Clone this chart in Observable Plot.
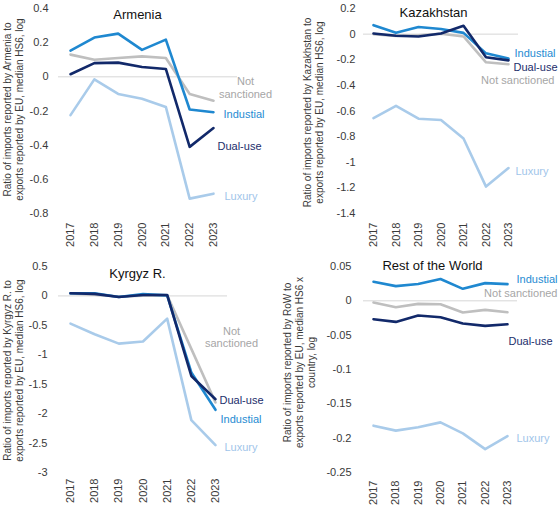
<!DOCTYPE html>
<html>
<head>
<meta charset="utf-8">
<script src="https://cdn.jsdelivr.net/npm/d3@7"></script>
<script src="https://cdn.jsdelivr.net/npm/@observablehq/plot@0.6"></script>
<style>
  html, body { margin: 0; padding: 0; background: #fff; }
  #wrap { position: relative; width: 559px; height: 505px; font-family: "Liberation Sans", Arial, sans-serif; }
  .panel { position: absolute; }
</style>
</head>
<body>
<div id="wrap"></div>
<script>
const years = [2017, 2018, 2019, 2020, 2021, 2022, 2023];
const seriesNames = ["Not sanctioned", "Luxury", "Industrial", "Dual-use"];
const seriesColors = ["#bfbfbf", "#a9cbea", "#1f88d0", "#12296a"];
const labelColors = { "Not sanctioned": "#a6a6a6", "Luxury": "#9fc5ea", "Industrial": "#1f8bd2", "Dual-use": "#1c2e6b" };

// Armenia
const armeniaIndustrial = [0.153, 0.230, 0.253, 0.158, 0.218, -0.191, -0.207];
const armeniaDualUse = [0.015, 0.080, 0.083, 0.058, 0.046, -0.410, -0.300];
const armeniaNotSanctioned = [0.130, 0.100, 0.110, 0.120, 0.110, -0.100, -0.140];
const armeniaLuxury = [-0.224, -0.015, -0.100, -0.128, -0.176, -0.713, -0.684];
const armeniaTicks = [0.4, 0.2, 0, -0.2, -0.4, -0.6, -0.8];

// Kazakhstan
const kazakhstanIndustrial = [0.070, 0.010, 0.055, 0.040, 0.010, -0.150, -0.190];
const kazakhstanDualUse = [0.005, -0.013, -0.018, 0.005, 0.065, -0.180, -0.205];
const kazakhstanNotSanctioned = [0.000, -0.015, -0.010, 0.003, -0.018, -0.220, -0.235];
const kazakhstanLuxury = [-0.655, -0.560, -0.660, -0.670, -0.815, -1.190, -1.045];
const kazakhstanTicks = [0.2, 0, -0.2, -0.4, -0.6, -0.8, -1, -1.2, -1.4];

// Kyrgyz R.
const kyrgyzIndustrial = [0.045, 0.045, -0.017, 0.030, 0.010, -1.300, -1.935];
const kyrgyzDualUse = [0.045, 0.035, -0.017, 0.017, 0.017, -1.360, -1.755];
const kyrgyzNotSanctioned = [0.040, 0.020, -0.010, 0.005, 0.010, -0.900, -1.810];
const kyrgyzLuxury = [-0.470, -0.650, -0.810, -0.775, -0.385, -2.110, -2.535];
const kyrgyzTicks = [0.5, 0, -0.5, -1, -1.5, -2, -2.5, -3];

// Rest of the World
const rowIndustrial = [0.0278, 0.0214, 0.0244, 0.0317, 0.0175, 0.0258, 0.0244];
const rowDualUse = [-0.0268, -0.0307, -0.0214, -0.0239, -0.0331, -0.0365, -0.0341];
const rowNotSanctioned = [-0.0024, -0.0093, -0.0044, -0.0049, -0.0170, -0.0132, -0.0166];
const rowLuxury = [-0.1818, -0.1890, -0.1840, -0.1770, -0.1930, -0.2160, -0.1970];
const rowTicks = [0.05, 0, -0.05, -0.1, -0.15, -0.2, -0.25];

function rows(values) {
  const out = [];
  for (const [name, arr] of Object.entries(values)) {
    arr.forEach((v, i) => out.push({ series: name, year: years[i], value: v }));
  }
  return out;
}

const fmt = d => String(+d.toFixed(3));

const panels = [
  {
    title: "Armenia", left: 0, top: 0, width: 280, height: 250,
    margin: { top: 8, right: 67, bottom: 37, left: 70 },
    ticks: armeniaTicks, tickPadding: 22, xPad: 9,
    yLabel: "Ratio of imports reported by Armenia to\nexports reported by EU, median HS6, log",
    yLabelDx: -68, yLabelDy: -1.5,
    titleDx: -4.5, titleDy: 6, zeroInset: [-12, -24],
    data: { "Not sanctioned": armeniaNotSanctioned, "Luxury": armeniaLuxury, "Industrial": armeniaIndustrial, "Dual-use": armeniaDualUse },
    labels: [
      { s: "Not sanctioned", text: "Not\nsanctioned", anchor: "middle", dx: 32, dy: -13 },
      { s: "Industrial", text: "Industial", anchor: "start", dx: 10, dy: 2 },
      { s: "Dual-use", text: "Dual-use", anchor: "start", dx: 4, dy: 18 },
      { s: "Luxury", text: "Luxury", anchor: "start", dx: 11, dy: 2 }
    ]
  },
  {
    title: "Kazakhstan", left: 280, top: 0, width: 279, height: 250,
    margin: { top: 8, right: 51, bottom: 37, left: 93 },
    ticks: kazakhstanTicks, tickPadding: 18, xPad: 9,
    yLabel: "Ratio of imports reported by Kazakhstan to\nexports reported by EU, median HS6, log",
    yLabelDx: -71, yLabelDy: 1.5,
    titleDx: -7.5, titleDy: 4, zeroInset: [-10, -10],
    data: { "Not sanctioned": kazakhstanNotSanctioned, "Luxury": kazakhstanLuxury, "Industrial": kazakhstanIndustrial, "Dual-use": kazakhstanDualUse },
    labels: [
      { s: "Industrial", text: "Industial", anchor: "start", dx: 6, dy: -6 },
      { s: "Dual-use", text: "Dual-use", anchor: "start", dx: 5, dy: 7 },
      { s: "Not sanctioned", text: "Not sanctioned", anchor: "end", dx: 46, dy: 16 },
      { s: "Luxury", text: "Luxury", anchor: "start", dx: 7, dy: 3 }
    ]
  },
  {
    title: "Kyrgyz R.", left: 0, top: 250, width: 280, height: 255,
    margin: { top: 16, right: 65, bottom: 33, left: 70 },
    ticks: kyrgyzTicks, tickPadding: 23, xPad: 6,
    yLabel: "Ratio of imports reported by Kyrgyz R. to\nexports reported by EU, median HS6, log",
    yLabelDx: -68, yLabelDy: 1,
    titleDx: -5.5, titleDy: 7, zeroInset: [-12, -12],
    data: { "Not sanctioned": kyrgyzNotSanctioned, "Luxury": kyrgyzLuxury, "Industrial": kyrgyzIndustrial, "Dual-use": kyrgyzDualUse },
    labels: [
      { s: "Not sanctioned", text: "Not\nsanctioned", anchor: "middle", dx: 16, dy: -65.5 },
      { s: "Dual-use", text: "Dual-use", anchor: "start", dx: 4, dy: 1 },
      { s: "Industrial", text: "Industial", anchor: "start", dx: 5, dy: 9 },
      { s: "Luxury", text: "Luxury", anchor: "start", dx: 9, dy: 2 }
    ]
  },
  {
    title: "Rest of the World", left: 280, top: 250, width: 279, height: 255,
    margin: { top: 16, right: 52, bottom: 33, left: 93 },
    ticks: rowTicks, tickPadding: 22, xPad: 8,
    yLabel: "Ratio of imports reported by RoW to\nexports reported by EU, median HS6 x\ncountry, log",
    yLabelDx: -91, yLabelDy: -7,
    titleDx: -8, titleDy: -1, zeroInset: [-10, -10],
    data: { "Not sanctioned": rowNotSanctioned, "Luxury": rowLuxury, "Industrial": rowIndustrial, "Dual-use": rowDualUse },
    labels: [
      { s: "Industrial", text: "Industial", anchor: "start", dx: 9, dy: -5 },
      { s: "Not sanctioned", text: "Not sanctioned", anchor: "end", dx: 50, dy: -19 },
      { s: "Dual-use", text: "Dual-use", anchor: "start", dx: 1, dy: 17 },
      { s: "Luxury", text: "Luxury", anchor: "start", dx: 9, dy: 2 }
    ]
  }
];

const wrap = document.getElementById("wrap");

for (const p of panels) {
  const data = rows(p.data);
  const last = data.filter(d => d.year === years[years.length - 1]);
  const labelMarks = p.labels.map(l =>
    Plot.text(last.filter(d => d.series === l.s), {
      x: "year", y: "value", text: () => l.text,
      textAnchor: l.anchor, dx: l.dx, dy: l.dy,
      fill: labelColors[l.s], fontSize: 11, lineHeight: 1.15,
      fontFamily: "Liberation Sans, Arial, sans-serif"
    })
  );
  const chart = Plot.plot({
    width: p.width, height: p.height,
    marginTop: p.margin.top, marginRight: p.margin.right,
    marginBottom: p.margin.bottom, marginLeft: p.margin.left,
    style: { fontFamily: "Liberation Sans, Arial, sans-serif", background: "white", overflow: "visible" },
    x: { domain: [years[0], years[years.length - 1]] },
    y: { domain: [p.ticks[p.ticks.length - 1], p.ticks[0]] },
    color: { domain: seriesNames, range: seriesColors },
    marks: [
      Plot.ruleY([0], { stroke: "#d6d6d6", strokeWidth: 1, insetLeft: p.zeroInset[0], insetRight: p.zeroInset[1] }),
      Plot.axisY({ ticks: p.ticks, tickFormat: fmt, tickSize: 0, tickPadding: p.tickPadding, fontSize: 11, fill: "#3a3a3a", label: null }),
      Plot.axisX({ ticks: years, tickFormat: d => String(d), tickRotate: -90, tickSize: 0, tickPadding: p.xPad, fontSize: 11, fill: "#3a3a3a", label: null }),
      Plot.line(data, { x: "year", y: "value", z: "series", stroke: "series", strokeWidth: 2.6, strokeLinejoin: "round" }),
      ...labelMarks,
      Plot.text([p.title], { frameAnchor: "top", text: d => d, lineAnchor: "middle", dx: p.titleDx, dy: p.titleDy, fontSize: 13, fill: "#111" }),
      Plot.text([p.yLabel], { frameAnchor: "left", text: d => d, rotate: -90, textAnchor: "middle", lineAnchor: "top", dx: p.yLabelDx, dy: p.yLabelDy, fontSize: 10, lineHeight: 1.2, fill: "#3a3a3a" })
    ]
  });
  const div = document.createElement("div");
  div.className = "panel";
  div.style.left = p.left + "px";
  div.style.top = p.top + "px";
  div.appendChild(chart);
  wrap.appendChild(div);
}
</script>
</body>
</html>
